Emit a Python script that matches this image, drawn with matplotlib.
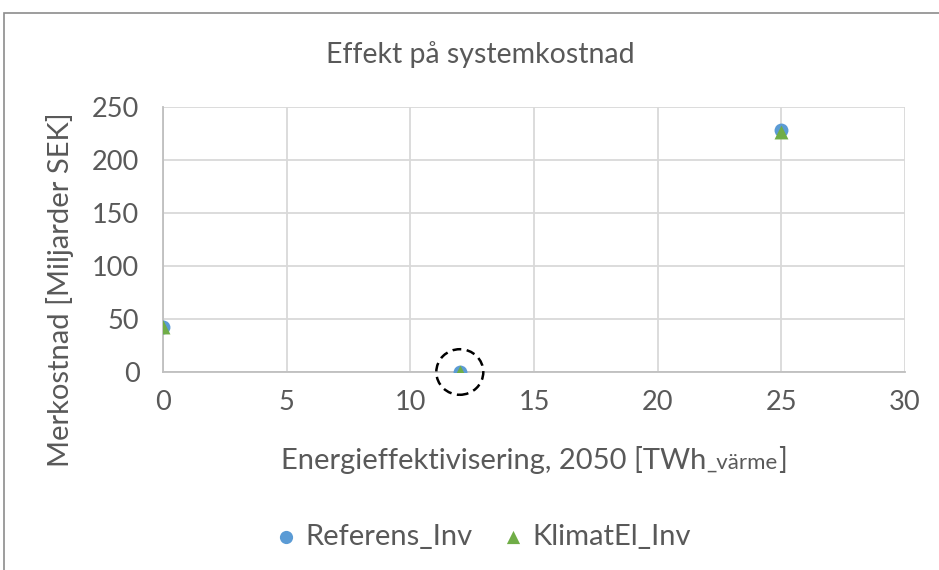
import matplotlib
matplotlib.use("Agg")
import matplotlib.pyplot as plt
from matplotlib.patches import Ellipse, Rectangle
from matplotlib.offsetbox import TextArea, HPacker, AnchoredOffsetbox

plt.rcParams['font.family'] = ['Lato', 'DejaVu Sans']

# Data
effektivisering = [0, 12, 25]
referens_inv = [42, 0, 228]
klimatel_inv = [42, 0, 226]

title = "Effekt på systemkostnad"
series_names = ["Referens_Inv", "KlimatEl_Inv"]
x_ticks = [0, 5, 10, 15, 20, 25, 30]
y_ticks = [0, 50, 100, 150, 200, 250]

text_col = "#595959"
grid_col = "#d9d9d9"
blue = "#5B9BD5"
green = "#70AD47"

fig = plt.figure(figsize=(9.39, 5.70), dpi=100)
ax = fig.add_axes([163/939, 1-372/570, (905-163)/939, (372-107)/570])

ax.scatter(effektivisering, referens_inv, s=100, marker='o', color=blue,
           label=series_names[0], zorder=3, linewidths=0)
ax.scatter(effektivisering, klimatel_inv, s=100, marker='^', color=green,
           label=series_names[1], zorder=4, linewidths=0)

# highlight around the point at 12 TWh
ax.add_patch(Ellipse((effektivisering[1], referens_inv[1]), width=1.9, height=43,
                     fill=False, edgecolor='black', linestyle=(0, (3.5, 2.2)),
                     linewidth=1.8, zorder=5, clip_on=False))

ax.set_xlim(0, 30)
ax.set_ylim(0, 250)
ax.set_xticks(x_ticks)
ax.set_yticks(y_ticks)
ax.grid(True, color=grid_col, linewidth=1.3)
ax.set_axisbelow(True)
for side in ['top', 'right']:
    ax.spines[side].set_visible(False)
for side in ['left', 'bottom']:
    ax.spines[side].set_color('#bfbfbf')
    ax.spines[side].set_linewidth(1.3)
ax.tick_params(length=0, labelsize=19.5, colors=text_col)
ax.tick_params(axis='y', pad=17)
ax.tick_params(axis='x', pad=13)
for lbl in ax.get_xticklabels() + ax.get_yticklabels():
    lbl.set_color(text_col)

fig.text(60/939, 1-290/570, "Merkostnad [Miljarder SEK]", rotation=90,
         ha='center', va='center', fontsize=21, color=text_col)

fig.text(480/939, 1-55/570, title, ha='center', va='center', fontsize=20.5, color=text_col)

# x axis label with smaller "_värme"
parts = HPacker(children=[
    TextArea("Energieffektivisering, 2050 [TWh", textprops=dict(fontsize=21, color=text_col)),
    TextArea("_värme", textprops=dict(fontsize=16, color=text_col)),
    TextArea("]", textprops=dict(fontsize=21, color=text_col)),
], align="baseline", pad=0, sep=0)
xlab = AnchoredOffsetbox(loc='center', child=parts, pad=0, frameon=False,
                         bbox_to_anchor=(534/939, 1-460/570),
                         bbox_transform=fig.transFigure, borderpad=0)
fig.add_artist(xlab)

leg = fig.legend(loc='center', bbox_to_anchor=(481/939, 1-537/570), ncol=2,
                 frameon=False, fontsize=21, handletextpad=0.15, columnspacing=0.9,
                 handlelength=1.0, markerscale=0.95)
for t in leg.get_texts():
    t.set_color(text_col)

# chart frame
fig.add_artist(Rectangle((4/939, -0.1), 1.2, 1-13/570+0.1, transform=fig.transFigure,
                         fill=False, edgecolor='#8c8c8c', linewidth=1.2))

fig.savefig("out.png", dpi=100, facecolor='white')
